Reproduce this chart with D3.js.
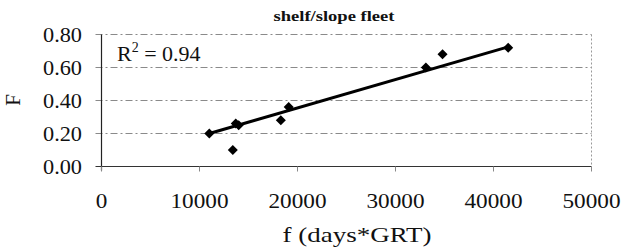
<!doctype html>
<html>
<head>
<meta charset="utf-8">
<script src="https://d3js.org/d3.v7.min.js"></script>
<style>
  body { margin: 0; background: #fff; }
  svg { display: block; }
  text { font-family: "Liberation Serif", "DejaVu Serif", serif; fill: #111; }
</style>
</head>
<body>
<svg class="plot"></svg>
<script>
// points
var effort = [11000, 13400, 13700, 14000, 18300, 19100, 33100, 34800, 41500];
var mortality = [0.20, 0.10, 0.26, 0.25, 0.28, 0.36, 0.60, 0.68, 0.72];
// fitted line as drawn (end points)
var trendX = [11000, 41500];
var trendY = [0.20, 0.725];
var xTicks = [0, 10000, 20000, 30000, 40000, 50000];
var yTicks = [0, 0.2, 0.4, 0.6, 0.8];
var rSquared = "0.94";

var width = 629, height = 247;
var plotLeft = 101.5, plotRight = 591.5, plotTop = 34.5, plotBottom = 166.5;

var svg = d3.select(".plot").attr("width", width).attr("height", height);
var x = d3.scaleLinear().domain([0, 50000]).range([plotLeft, plotRight]);
var y = d3.scaleLinear().domain([0, 0.8]).range([plotBottom, plotTop]);

// gridlines
svg.selectAll(".grid").data(yTicks.slice(1)).enter().append("line")
    .attr("x1", plotLeft - 6).attr("x2", plotRight)
    .attr("y1", d => y(d)).attr("y2", d => y(d))
    .attr("stroke", "#8a8a8a").attr("stroke-width", 1)
    .attr("stroke-dasharray", "7,3,2,3");

// right border dotted
svg.append("line")
    .attr("x1", plotRight).attr("x2", plotRight).attr("y1", plotTop).attr("y2", plotBottom)
    .attr("stroke", "#999").attr("stroke-dasharray", "2,2");

// axes lines
svg.append("line")
    .attr("x1", plotLeft).attr("x2", plotLeft).attr("y1", plotTop).attr("y2", plotBottom + 4)
    .attr("stroke", "#222").attr("stroke-width", 1.2);
svg.append("line")
    .attr("x1", plotLeft - 6).attr("x2", plotRight).attr("y1", plotBottom).attr("y2", plotBottom)
    .attr("stroke", "#333").attr("stroke-width", 1.2);

// x ticks
svg.selectAll(".xt").data(xTicks).enter().append("line")
    .attr("x1", d => x(d)).attr("x2", d => x(d))
    .attr("y1", plotBottom).attr("y2", plotBottom + 5)
    .attr("stroke", "#888");

svg.selectAll(".xl").data(xTicks).enter().append("text")
    .attr("x", d => x(d)).attr("y", 208)
    .attr("text-anchor", "middle")
    .attr("textLength", d => String(d).length * 11.6)
    .attr("lengthAdjust", "spacingAndGlyphs")
    .style("font-size", "21px")
    .text(d => d);

svg.selectAll(".yl").data(yTicks).enter().append("text")
    .attr("x", 82).attr("y", d => y(d) + 7)
    .attr("text-anchor", "end")
    .attr("textLength", 39)
    .attr("lengthAdjust", "spacingAndGlyphs")
    .style("font-size", "21px")
    .text(d => d.toFixed(2));

// titles
svg.append("text")
    .attr("x", 334).attr("y", 21)
    .attr("text-anchor", "middle")
    .attr("textLength", 121)
    .attr("lengthAdjust", "spacingAndGlyphs")
    .style("font-size", "15px").style("font-weight", "bold")
    .text("shelf/slope fleet");

svg.append("text")
    .attr("x", 357).attr("y", 242)
    .attr("text-anchor", "middle")
    .attr("textLength", 149)
    .attr("lengthAdjust", "spacingAndGlyphs")
    .style("font-size", "21px")
    .text("f (days*GRT)");

svg.append("text")
    .attr("transform", "translate(20,100) rotate(-90)")
    .attr("text-anchor", "middle")
    .style("font-size", "21px")
    .text("F");

var r2 = svg.append("text")
    .attr("x", 117).attr("y", 61)
    .style("font-size", "22px");
r2.append("tspan").text("R");
r2.append("tspan").attr("dy", -9).style("font-size", "14px").text("2");
r2.append("tspan").attr("dy", 9).text(" = " + rSquared);

// trend line
svg.append("line")
    .attr("x1", x(trendX[0])).attr("y1", y(trendY[0]))
    .attr("x2", x(trendX[1])).attr("y2", y(trendY[1]))
    .attr("stroke", "#000").attr("stroke-width", 3);

// diamond markers
var diamond = d3.symbol().type(d3.symbolDiamond2).size(64);
svg.selectAll(".pt").data(effort).enter().append("path")
    .attr("d", diamond)
    .attr("transform", (d, i) => "translate(" + x(d) + "," + y(mortality[i]) + ")")
    .attr("fill", "#000");
</script>
</body>
</html>
